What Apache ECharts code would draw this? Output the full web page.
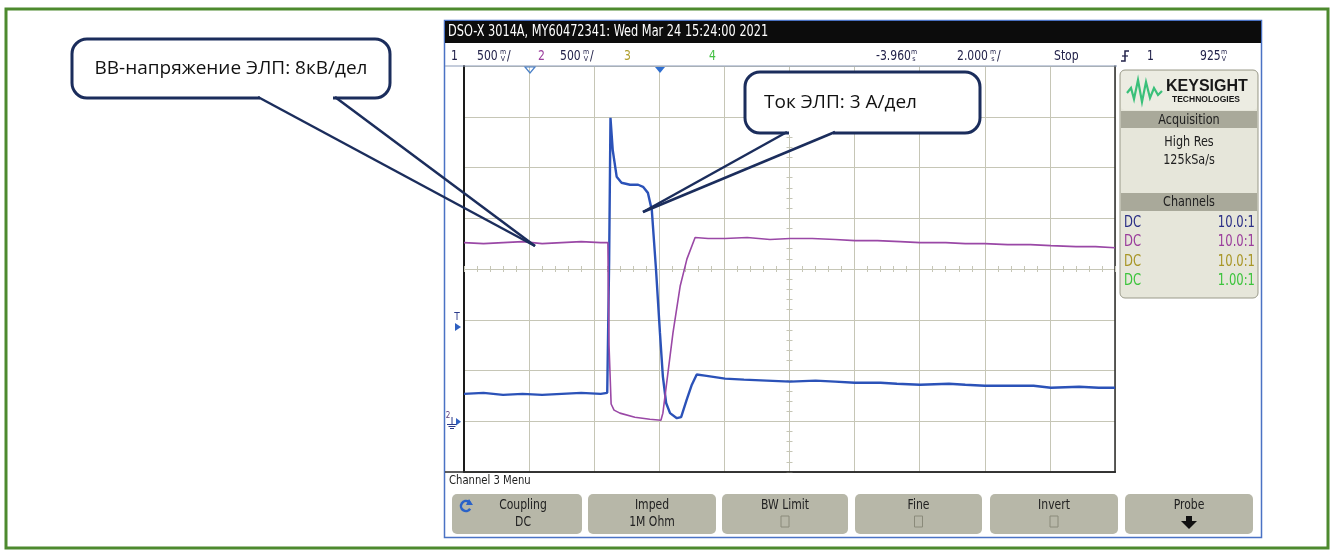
<!DOCTYPE html>
<html><head><meta charset="utf-8">
<script src="https://cdn.jsdelivr.net/npm/echarts@6/dist/echarts.min.js"></script>
<style>html,body{margin:0;padding:0;background:#fff}#c{width:1333px;height:555px}</style>
</head><body><div id="c"></div>
<script>
// Time in ms counted from the left edge of the scope screen (2 ms/div, 10 div)
// Channel 1 (blue, current of the ELP), volts on screen (500 mV/div)
const ch1Time  = [0, 0.6, 1.2, 1.8, 2.4, 3.0, 3.6, 4.2, 4.40, 4.46, 4.50, 4.57, 4.69, 4.84, 5.10, 5.35, 5.50, 5.65, 5.77, 5.90, 6.02, 6.11, 6.21, 6.33, 6.54, 6.67, 6.84, 7.00, 7.15, 7.40, 8.02, 8.6, 9.3, 10.02, 10.8, 11.4, 12.01, 12.8, 13.3, 14.01, 14.9, 15.4, 16.0, 16.8, 17.5, 18.03, 18.9, 19.5, 20];
const ch1Volts = [0.27, 0.28, 0.26, 0.27, 0.26, 0.27, 0.28, 0.27, 0.28, 1.60, 2.99, 2.67, 2.41, 2.35, 2.33, 2.33, 2.31, 2.25, 2.08, 1.49, 0.87, 0.44, 0.18, 0.08, 0.03, 0.04, 0.21, 0.36, 0.46, 0.45, 0.42, 0.41, 0.40, 0.39, 0.40, 0.39, 0.38, 0.38, 0.37, 0.36, 0.37, 0.36, 0.35, 0.35, 0.35, 0.33, 0.34, 0.33, 0.33];
// Channel 2 (purple, HV voltage of the ELP), volts on screen (500 mV/div)
const ch2Time  = [0, 0.6, 1.2, 1.8, 2.4, 3.0, 3.6, 4.2, 4.42, 4.455, 4.52, 4.61, 4.79, 5.25, 5.71, 6.05, 6.11, 6.42, 6.64, 6.85, 7.10, 7.5, 8.02, 8.7, 9.4, 10.02, 10.7, 11.4, 12.01, 12.7, 13.4, 14.01, 14.8, 15.4, 16.0, 16.7, 17.4, 18.03, 18.8, 19.4, 20];
const ch2Volts = [1.76, 1.75, 1.76, 1.77, 1.75, 1.76, 1.77, 1.76, 1.76, 0.75, 0.17, 0.11, 0.08, 0.04, 0.02, 0.01, 0.08, 0.87, 1.33, 1.60, 1.81, 1.80, 1.80, 1.81, 1.79, 1.80, 1.80, 1.79, 1.78, 1.78, 1.77, 1.76, 1.76, 1.75, 1.75, 1.74, 1.74, 1.73, 1.72, 1.72, 1.71];

const headerTexts = ['DSO-X 3014A, MY60472341: Wed Mar 24 15:24:00 2021'];
const callout1 = 'ВВ-напряжение ЭЛП: 8кВ/дел';
const callout2 = 'Ток ЭЛП: 3 А/дел';
const softkeyTop = ['Coupling', 'Imped', 'BW Limit', 'Fine', 'Invert', 'Probe'];
const softkeyBottom = ['DC', '1M Ohm', '', '', '', ''];
const channelRatios = ['10.0:1', '10.0:1', '10.0:1', '1.00:1'];
const channelColors = ['#2a2e86', '#9a3c9c', '#a89626', '#3cc43c'];

const chart = echarts.init(document.getElementById('c'), null, {renderer: 'canvas'});
const NF = '"DejaVu Sans Condensed","Liberation Sans",sans-serif';
const GRID = {left: 464, top: 66, width: 651, height: 406};
const gridCol = '#c6c6b6';

function pair(t, v) { return t.map((x, i) => [x, v[i]]); }

const g = [];
function T(x, y, text, col, size, align, sx, z) {
  g.push({type: 'text', x: x, y: y, scaleX: sx || 0.86,
    style: {text: text, fill: col || '#202020', font: (size || 14) + 'px ' + NF, textAlign: align || 'left', textVerticalAlign: 'middle'},
    z: z || 5});
}
// page border
g.push({type: 'rect', shape: {x: 6, y: 9, width: 1322, height: 539}, style: {fill: 'none', stroke: '#4d8a2e', lineWidth: 3}, z: 1});
// scope frame
g.push({type: 'rect', shape: {x: 444.5, y: 20.5, width: 817, height: 517}, style: {fill: '#fff', stroke: '#4a72c4', lineWidth: 1.5}, z: -10});
g.push({type: 'rect', shape: {x: 445, y: 21, width: 816, height: 22}, style: {fill: '#0c0c0c'}, z: 2});
T(448, 32, headerTexts[0], '#fff', 15, 'left', 0.84);
g.push({type: 'line', shape: {x1: 445, y1: 66, x2: 1117, y2: 66}, style: {stroke: '#8a9ab8', lineWidth: 1}, z: 3});
// header row
function unit(x, top, bot, col) {
  T(x, 52, top, col, 7, 'center', 1);
  T(x, 59, bot, col, 7, 'center', 1);
}
const HC = '#22224a';
T(451, 56, '1', HC); T(477, 56, '500', HC); unit(503, 'm', 'V', HC); T(507, 56, '/', HC);
T(538, 56, '2', '#9a3c9c'); T(560, 56, '500', HC); unit(586, 'm', 'V', HC); T(590, 56, '/', HC);
T(624, 56, '3', '#b0a030'); T(709, 56, '4', '#44c044');
T(876, 56, '-3.960', HC); unit(914, 'm', 's', HC);
T(957, 56, '2.000', HC); unit(993, 'm', 's', HC); T(997, 56, '/', HC);
T(1054, 56, 'Stop', HC);
g.push({type: 'polyline', shape: {points: [[1121, 61], [1125, 61], [1125, 51], [1129, 51]]}, style: {stroke: HC, lineWidth: 1.5, fill: 'none'}, z: 3});
g.push({type: 'line', shape: {x1: 1122, y1: 56, x2: 1128, y2: 56}, style: {stroke: HC, lineWidth: 1.2}, z: 3});
T(1147, 56, '1', HC); T(1200, 56, '925', HC); unit(1224, 'm', 'V', HC);
// top markers
g.push({type: 'polygon', shape: {points: [[525, 67], [535, 67], [530, 73]]}, style: {fill: 'none', stroke: '#4a80c8', lineWidth: 1.2}, z: 5});
g.push({type: 'polygon', shape: {points: [[655, 67], [665, 67], [660, 73]]}, style: {fill: '#2f6fd0'}, z: 5});
// left markers
T(457, 317, 'T', '#2a3a8a', 10, 'center', 1);
g.push({type: 'polygon', shape: {points: [[455, 323], [461, 327], [455, 331]]}, style: {fill: '#2f60c0'}, z: 5});
T(448, 416, '2', '#5a3a7a', 8, 'center', 1);
g.push({type: 'line', shape: {x1: 452, y1: 417, x2: 452, y2: 424}, style: {stroke: '#2a3a8a', lineWidth: 1}, z: 5});
g.push({type: 'line', shape: {x1: 447, y1: 424.5, x2: 457, y2: 424.5}, style: {stroke: '#2a3a8a', lineWidth: 1}, z: 5});
g.push({type: 'line', shape: {x1: 448.5, y1: 426.5, x2: 455.5, y2: 426.5}, style: {stroke: '#2a3a8a', lineWidth: 1}, z: 5});
g.push({type: 'line', shape: {x1: 450, y1: 428.5, x2: 454, y2: 428.5}, style: {stroke: '#2a3a8a', lineWidth: 1}, z: 5});
g.push({type: 'polygon', shape: {points: [[456, 418], [461, 421.7], [456, 425.4]]}, style: {fill: '#2f60c0'}, z: 5});
// right panel
g.push({type: 'rect', shape: {x: 1120, y: 70, width: 138, height: 228, r: 5}, style: {fill: '#e6e6da', stroke: '#9a9a8a', lineWidth: 1}, z: 3});
g.push({type: 'rect', shape: {x: 1121, y: 71, width: 136, height: 39, r: 4}, style: {fill: '#ececE2'}, z: 3});
g.push({type: 'polyline', shape: {points: [[1127, 93], [1131, 88], [1134, 99], [1138, 80], [1142, 102], [1146, 82], [1150, 98], [1154, 88], [1158, 95], [1162, 91]]}, style: {stroke: '#3ac07a', lineWidth: 2.2, fill: 'none'}, z: 4});
g.push({type: 'text', x: 1166, y: 87, style: {text: 'KEYSIGHT', fill: '#181818', font: 'bold 16px "Liberation Sans",Arial,sans-serif', textVerticalAlign: 'middle'}, z: 4});
g.push({type: 'text', x: 1172, y: 100, style: {text: 'TECHNOLOGIES', fill: '#181818', font: 'bold 8.5px "Liberation Sans",Arial,sans-serif', textVerticalAlign: 'middle'}, z: 4});
g.push({type: 'rect', shape: {x: 1121, y: 111, width: 136, height: 17}, style: {fill: '#a9a99a'}, z: 4});
T(1189, 120, 'Acquisition', '#202020', 14.5, 'center');
T(1189, 142, 'High Res', '#202020', 14.5, 'center');
T(1189, 160, '125kSa/s', '#202020', 14.5, 'center');
g.push({type: 'rect', shape: {x: 1121, y: 193, width: 136, height: 18}, style: {fill: '#a9a99a'}, z: 4});
T(1189, 202, 'Channels', '#202020', 14.5, 'center');
channelRatios.forEach((r, i) => {
  const y = 223 + i * 19.5;
  T(1124, y, 'DC', channelColors[i], 15, 'left');
  T(1255, y, r, channelColors[i], 15, 'right');
});
// bottom menu
g.push({type: 'line', shape: {x1: 445, y1: 472, x2: 1116, y2: 472}, style: {stroke: '#2a2a2a', lineWidth: 1.5}, z: 3});
T(449, 481, 'Channel 3 Menu', '#202020', 13, 'left');
const keyX = [452, 588, 722, 855, 990, 1125];
const keyW = [130, 128, 126, 127, 128, 128];
softkeyTop.forEach((t, i) => {
  const x = keyX[i], w = keyW[i], cx = x + w / 2 + (i === 0 ? 6 : 0);
  g.push({type: 'rect', shape: {x: x, y: 494, width: w, height: 40, r: 5}, style: {fill: '#b7b7a8'}, z: 3});
  T(cx, 505, t, '#222', 14, 'center');
  if (softkeyBottom[i]) T(cx, 522, softkeyBottom[i], '#222', 14, 'center');
  else if (i < 5) g.push({type: 'rect', shape: {x: cx - 4, y: 516, width: 8, height: 11}, style: {fill: 'none', stroke: '#8a8a7a', lineWidth: 1}, z: 4});
  else g.push({type: 'polygon', shape: {points: [[cx - 3, 516], [cx + 3, 516], [cx + 3, 521], [cx + 8, 521], [cx, 529], [cx - 8, 521], [cx - 3, 521]]}, style: {fill: '#111'}, z: 4});
});
g.push({type: 'arc', shape: {cx: 466, cy: 506, r: 5, startAngle: 0.6, endAngle: 5.6}, style: {stroke: '#2a62c8', lineWidth: 2.5, fill: 'none'}, z: 4});
g.push({type: 'polygon', shape: {points: [[469, 499], [473, 505], [466, 505]]}, style: {fill: '#2a62c8'}, z: 4});
// callouts
const NAVY = '#1b2d5c';
const CF = '19px "Open Sans",Lato,sans-serif';
g.push({type: 'rect', shape: {x: 72, y: 39, width: 318, height: 59, r: 15}, style: {fill: '#fff', stroke: NAVY, lineWidth: 3}, z: 50});
g.push({type: 'line', shape: {x1: 260, y1: 98, x2: 333, y2: 98}, style: {stroke: '#fff', lineWidth: 4}, z: 51});
g.push({type: 'line', shape: {x1: 258, y1: 97, x2: 535, y2: 246}, style: {stroke: NAVY, lineWidth: 2.5}, z: 52});
g.push({type: 'line', shape: {x1: 335, y1: 97, x2: 535, y2: 246}, style: {stroke: NAVY, lineWidth: 2.5}, z: 52});
g.push({type: 'text', x: 231, y: 69, style: {text: callout1, fill: '#111', font: CF, textAlign: 'center', textVerticalAlign: 'middle'}, z: 53});
g.push({type: 'rect', shape: {x: 745, y: 72, width: 235, height: 61, r: 15}, style: {fill: '#fff', stroke: NAVY, lineWidth: 3}, z: 50});
g.push({type: 'line', shape: {x1: 789, y1: 133, x2: 833, y2: 133}, style: {stroke: '#fff', lineWidth: 4}, z: 51});
g.push({type: 'line', shape: {x1: 787, y1: 132, x2: 643, y2: 212}, style: {stroke: NAVY, lineWidth: 2.5}, z: 52});
g.push({type: 'line', shape: {x1: 835, y1: 132, x2: 643, y2: 212}, style: {stroke: NAVY, lineWidth: 2.5}, z: 52});
g.push({type: 'text', x: 764, y: 103, style: {text: callout2, fill: '#111', font: CF, textAlign: 'left', textVerticalAlign: 'middle'}, z: 53});

const tickAxisX = (inside) => ({
  type: 'value', min: 0, max: 20, interval: 2, position: 'bottom', offset: -203,
  axisLine: {show: false, onZero: false}, axisLabel: {show: false}, splitLine: {show: false},
  axisTick: {show: true, inside: inside, length: 3, lineStyle: {color: gridCol}},
  minorTick: {show: true, splitNumber: 5, length: 3, lineStyle: {color: gridCol}}
});
const tickAxisY = (inside) => ({
  type: 'value', min: -0.5, max: 3.5, interval: 0.5, position: 'left', offset: -325.5,
  axisLine: {show: false, onZero: false}, axisLabel: {show: false}, splitLine: {show: false},
  axisTick: {show: true, inside: inside, length: 3, lineStyle: {color: gridCol}},
  minorTick: {show: true, splitNumber: 5, length: 3, lineStyle: {color: gridCol}}
});

chart.setOption({
  animation: false,
  backgroundColor: '#fff',
  grid: GRID,
  xAxis: [
    {type: 'value', min: 0, max: 20, interval: 2, position: 'bottom',
     axisLine: {show: true, onZero: false, lineStyle: {color: '#2a2a2a', width: 1.5}}, axisTick: {show: false}, axisLabel: {show: false},
     splitLine: {show: true, lineStyle: {color: gridCol, width: 1}}},
    tickAxisX(true), tickAxisX(false)
  ],
  yAxis: [
    {type: 'value', min: -0.5, max: 3.5, interval: 0.5, position: 'left',
     axisLine: {show: true, onZero: false, lineStyle: {color: '#1a1a1a', width: 2}}, axisTick: {show: false}, axisLabel: {show: false},
     splitLine: {show: true, lineStyle: {color: gridCol, width: 1}}},
    {type: 'value', min: -0.5, max: 3.5, interval: 0.5, position: 'right',
     axisLine: {show: true, onZero: false, lineStyle: {color: '#2a2a2a', width: 1.5}}, axisTick: {show: false}, axisLabel: {show: false}, splitLine: {show: false}},
    tickAxisY(true), tickAxisY(false)
  ],
  series: [
    {name: 'Ch1', type: 'line', data: pair(ch1Time, ch1Volts), showSymbol: false, symbol: 'none',
     lineStyle: {color: '#2b52b8', width: 2.4}, z: 10},
    {name: 'Ch2', type: 'line', data: pair(ch2Time, ch2Volts), showSymbol: false, symbol: 'none',
     lineStyle: {color: '#9a48a6', width: 1.6}, z: 11}
  ],
  graphic: g
});
</script></body></html>
